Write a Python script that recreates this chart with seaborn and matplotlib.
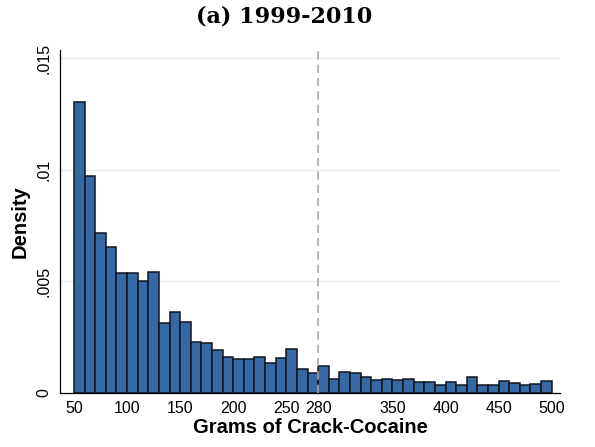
import numpy as np
import pandas as pd
import seaborn as sns
import matplotlib
matplotlib.use("Agg")
import matplotlib.pyplot as plt
from matplotlib.ticker import FixedLocator

# Bin lower edges (grams) and density heights
bin_starts = list(range(50, 500, 10))
densities = [
    0.01305, 0.00972, 0.00715, 0.00652, 0.00538, 0.00536, 0.00502, 0.00540,
    0.00311, 0.00361, 0.00316, 0.00229, 0.00222, 0.00190, 0.00162, 0.00151,
    0.00151, 0.00159, 0.00133, 0.00157, 0.00195, 0.00105, 0.00087,
    0.00118, 0.00063, 0.00092, 0.00088, 0.00072, 0.00057, 0.00060, 0.00055,
    0.00063, 0.00048, 0.00050, 0.00036, 0.00047, 0.00034, 0.00069, 0.00033,
    0.00033, 0.00051, 0.00042, 0.00033, 0.00041, 0.00051,
]
x_ticks = [50, 100, 150, 200, 250, 280, 350, 400, 450, 500]
y_ticks = [0, 0.005, 0.01, 0.015]
y_tick_labels = ["0", ".005", ".01", ".015"]
cutoff = 280
title = "(a) 1999-2010"
xlabel = "Grams of Crack-Cocaine"
ylabel = "Density"

sns.set_style("white")
plt.rcParams["font.family"] = ["Liberation Sans", "DejaVu Sans"]
plt.rcParams.update({"text.color": "black", "axes.labelcolor": "black",
                     "xtick.color": "black", "ytick.color": "black"})

df = pd.DataFrame({"center": np.array(bin_starts) + 5, "density": densities})
edges = list(bin_starts) + [bin_starts[-1] + 10]

fig = plt.figure(figsize=(5.95, 4.47), dpi=100)
ax = fig.add_axes([60 / 595, 1 - 392.7 / 447, 500 / 595, 342.7 / 447])

for yv in y_ticks:
    ax.axhline(yv, color="#ebebeb", lw=1.0, zorder=0)

sns.histplot(data=df, x="center", weights="density", bins=edges, stat="count",
             color="#3669a3", edgecolor="#0f1520", linewidth=1.1, alpha=1.0, ax=ax)

ax.axvline(cutoff, color="#a8a8a8", lw=1.2, ls=(0, (5, 3)), zorder=3)

ax.set_xlim(36.8, 507.8)
ax.set_ylim(0, 0.01537)
ax.xaxis.set_major_locator(FixedLocator(x_ticks))
ax.set_yticks(y_ticks)
ax.set_yticklabels(y_tick_labels, rotation=90, va="center")
ax.tick_params(axis="both", labelsize=11.5, length=3, width=0.8, color="black",
               labelcolor="black", direction="out", pad=3)
ax.tick_params(axis="x", length=2, pad=4)

for s in ["top", "right"]:
    ax.spines[s].set_visible(False)
for s in ["left", "bottom"]:
    ax.spines[s].set_color("black")
    ax.spines[s].set_linewidth(0.9)

ax.set_xlabel(xlabel, fontsize=14.5, fontweight="bold", labelpad=1.5, color="black")
ax.set_ylabel(ylabel, fontsize=14.5, fontweight="bold", labelpad=5, color="black")

fig.text(284 / 595, 1 - 16 / 447, title, ha="center", va="center", color="black",
         fontsize=16, fontweight="bold", family=["DejaVu Serif"])

fig.savefig("out.png", dpi=100, facecolor="white")
